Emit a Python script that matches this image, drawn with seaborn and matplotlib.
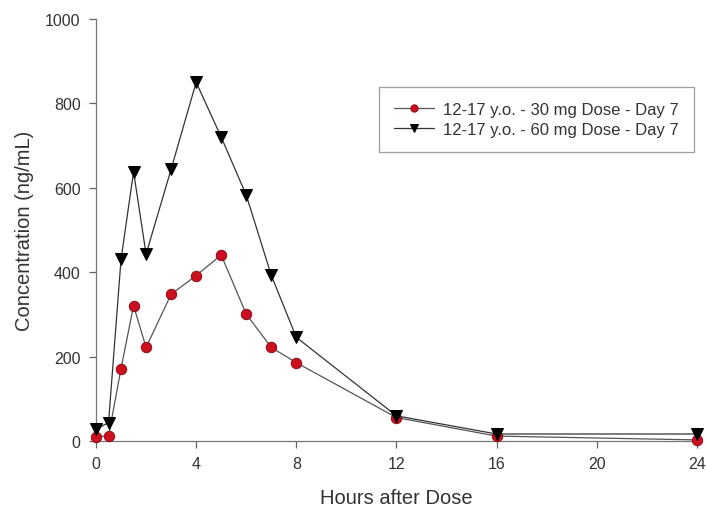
import matplotlib
matplotlib.use("Agg")
import matplotlib.pyplot as plt
import pandas as pd
import seaborn as sns

# Time points (hours after dose)
hours = [0, 0.5, 1, 1.5, 2, 3, 4, 5, 6, 7, 8, 12, 16, 24]

# Mean concentrations (ng/mL)
conc_30mg = [11, 12, 172, 321, 222, 348, 392, 441, 301, 222, 186, 56, 12, 3]
conc_60mg = [28, 44, 431, 638, 443, 644, 850, 720, 583, 393, 246, 60, 17, 17]

label_30 = "12-17 y.o. - 30 mg Dose - Day 7"
label_60 = "12-17 y.o. - 60 mg Dose - Day 7"

x_ticks = [0, 4, 8, 12, 16, 20, 24]
y_ticks = [0, 200, 400, 600, 800, 1000]

df30 = pd.DataFrame({"hours": hours, "conc": conc_30mg})
df60 = pd.DataFrame({"hours": hours, "conc": conc_60mg})

sns.set_style("ticks")
plt.rcParams["font.family"] = ["Liberation Sans", "DejaVu Sans"]

fig = plt.figure(figsize=(7.06, 5.10), dpi=100)
ax = fig.add_axes([0.136, 0.133, 0.851, 0.828])

# Red circles series
sns.lineplot(data=df30, x="hours", y="conc", ax=ax, color="#555555",
             linewidth=0.9, marker="o", markersize=7.5,
             markerfacecolor="#cc1020", markeredgecolor="#8a0d15",
             markeredgewidth=0.7, label=label_30, clip_on=False, zorder=3)

# Black triangles series
sns.lineplot(data=df60, x="hours", y="conc", ax=ax, color="#333333",
             linewidth=0.9, marker="v", markersize=8,
             markerfacecolor="black", markeredgecolor="black",
             label=label_60, clip_on=False, zorder=4)

ax.set_xlim(0, 24)
ax.set_ylim(0, 1000)
ax.set_xticks(x_ticks)
ax.set_yticks(y_ticks)
ax.tick_params(direction="out", length=5, width=0.9, colors="#666666",
               labelcolor="#333333", labelsize=11.5, pad=6)

for side in ["top", "right"]:
    ax.spines[side].set_visible(False)
for side in ["left", "bottom"]:
    ax.spines[side].set_color("#777777")
    ax.spines[side].set_linewidth(0.9)

ax.set_xlabel("Hours after Dose", fontsize=14.5, color="#333333", labelpad=12)
ax.set_ylabel("Concentration (ng/mL)", fontsize=14.5, color="#333333", labelpad=8)

leg = ax.legend(loc="upper left", bbox_to_anchor=(0.471, 0.839), fontsize=12,
                frameon=True, fancybox=False, handlelength=2.4,
                borderpad=0.92, labelspacing=0.26, handletextpad=0.5,
                borderaxespad=0, markerscale=0.7)
leg.get_frame().set_edgecolor("#888888")
leg.get_frame().set_linewidth(0.9)
for t in leg.get_texts():
    t.set_color("#333333")

fig.savefig("out.png", dpi=100)
